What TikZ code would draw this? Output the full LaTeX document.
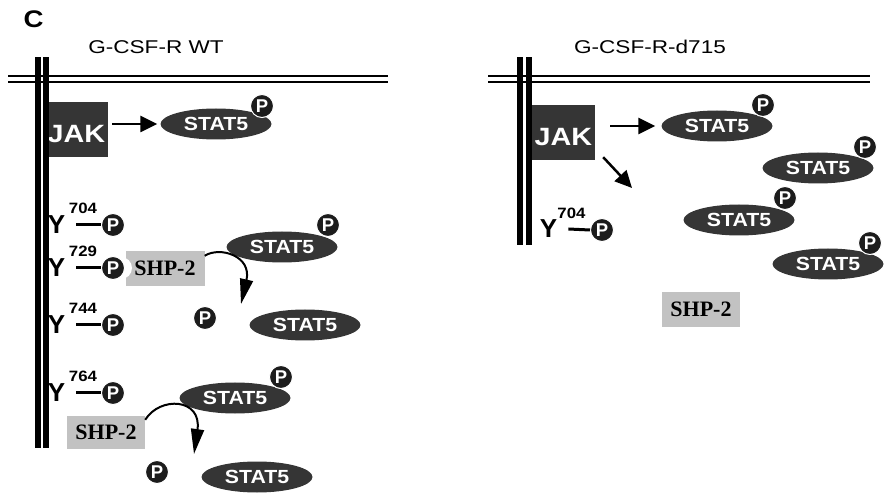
\documentclass[tikz,border=0pt]{standalone}
\usepackage{fontspec}
\setmainfont{Liberation Sans}
\newfontfamily\serifface{Liberation Serif}
\newfontfamily\headface[FakeStretch=1.22]{Liberation Sans}
\newfontfamily\jakface[FakeStretch=1.15]{Liberation Sans}
\newfontfamily\statface[FakeStretch=1.12]{Liberation Sans}
\newfontfamily\supface[FakeStretch=1.12]{Liberation Sans}
\usetikzlibrary{arrows.meta,shapes.geometric}
\definecolor{protein}{HTML}{353535}
\definecolor{phos}{HTML}{1C1C1C}
\definecolor{phosphatase}{HTML}{C2C2C2}
\tikzset{
  kinase/.style={rectangle, fill=protein, minimum width=63pt, minimum height=55pt,
    inner sep=0pt, text=white, font=\jakface\bfseries\fontsize{25}{25}\selectfont,
    text height=26pt, text depth=0pt},
  stat/.style={ellipse, fill=protein, minimum width=111pt, minimum height=31pt,
    inner sep=0pt, text=white, font=\statface\bfseries\fontsize{19}{19}\selectfont},
  phosgrp/.style={circle, fill=phos, draw=white, line width=1pt, minimum size=23pt,
    inner sep=0pt, text=white, font=\bfseries\fontsize{18.5}{18.5}\selectfont},
  shp/.style={rectangle, fill=phosphatase, minimum width=79pt, minimum height=35pt,
    inner sep=0pt, font=\serifface\bfseries\fontsize{22}{22}\selectfont},
  tyr/.style={inner sep=0pt, font=\bfseries\fontsize{26}{26}\selectfont},
  resnum/.style={inner sep=0pt, font=\supface\bfseries\fontsize{15}{15}\selectfont},
  header/.style={inner sep=0pt, font=\headface\fontsize{18.5}{18.5}\selectfont},
  bond/.style={line width=3pt},
  act/.style={line width=2.5pt, -{Triangle[length=17pt,width=16pt]}},
  dephos/.style={line width=2pt, -{Triangle[length=25pt,width=13pt]}},
}
\begin{document}
\begin{tikzpicture}[x=1pt,y=-1pt]
\useasboundingbox[fill=white] (0,0) rectangle (884,494);

% panel letter and headings
\node[inner sep=0pt, font=\jakface\bfseries\fontsize{24}{24}\selectfont] (panel) at (33.5,19.5) {C};
\node[header] (titleL) at (156,47.5) {G-CSF-R WT};
\node[header] (titleR) at (650,47) {G-CSF-R-d715};

% ---------- wild-type receptor ----------
\node[kinase] (jakL) at (76.5,129.5) {JAK};
\fill (35,57) rectangle (41,448);
\fill (43,57) rectangle (49,448);
\fill (8,75) rectangle (388,77.5);
\fill (8,81) rectangle (388,83.5);

\node[stat] (sL1) at (216,124) {STAT5};
\node[phosgrp] (sL1p) at (262,106) {P};
\draw[act, shorten <=4pt, shorten >=3pt] (jakL.east |- sL1.west) -- (sL1.west);

% phosphotyrosines
\node[tyr] (yL1) at (56.5,225) {Y};
\node[resnum] (yL1n) at (83,208) {704};
\node[phosgrp] (pL1) at (113,225) {P};
\draw[bond] ([xshift=11pt]yL1.east) -- (pL1.west);

\node[shp] (shpL1) at (165,268.5) {SHP-2};
\fill[white] (121,268) circle (11);
\node[tyr] (yL2) at (56.5,268) {Y};
\node[resnum] (yL2n) at (83,251) {729};
\node[phosgrp] (pL2) at (113,268) {P};
\draw[bond] ([xshift=11pt]yL2.east) -- (pL2.west);

\node[tyr] (yL3) at (56.5,325) {Y};
\node[resnum] (yL3n) at (83,308) {744};
\node[phosgrp] (pL3) at (113,325) {P};
\draw[bond] ([xshift=11pt]yL3.east) -- (pL3.west);

\node[tyr] (yL4) at (56.5,393) {Y};
\node[resnum] (yL4n) at (83,376) {764};
\node[phosgrp] (pL4) at (113,393) {P};
\draw[bond] ([xshift=11pt]yL4.east) -- (pL4.west);

% SHP-2 dephosphorylation near Y729
\node[stat] (sL2) at (282,247) {STAT5};
\node[phosgrp] (sL2p) at (328,225) {P};
\coordinate (tipA) at (241,304);
\draw[dephos] ([yshift=-5pt]shpL1.north east) .. controls (220,246) and (252,256) .. (tipA);
\node[phosgrp] (freeA) at (205,318) {P};
\node[stat] (sL3) at (305,325) {STAT5};

% SHP-2 dephosphorylation near Y764
\node[stat] (sL4) at (235,398) {STAT5};
\node[phosgrp] (sL4p) at (281,377) {P};
\node[shp, minimum width=78pt, minimum height=33pt] (shpL2) at (106,432.5) {SHP-2};
\coordinate (tipB) at (194,454);
\draw[dephos] ([yshift=-4pt]shpL2.north east) .. controls (160,396) and (202,398) .. (tipB);
\node[phosgrp] (freeB) at (157,472) {P};
\node[stat] (sL5) at (257,477) {STAT5};

% ---------- truncated receptor ----------
\node[kinase] (jakR) at (563.5,132.5) {JAK};
\fill (517,57) rectangle (523,245);
\fill (526,57) rectangle (532,245);
\fill (488,75) rectangle (870,77.5);
\fill (488,81) rectangle (870,83.5);

\node[stat] (sR1) at (717,126) {STAT5};
\node[phosgrp] (sR1p) at (763,105) {P};
\draw[act, shorten <=15pt, shorten >=6pt] (jakR.east |- sR1.west) -- (sR1.west);
\coordinate (jakRtarget) at (632,188);
\draw[act] ([shift={(8pt,3pt)}]jakR.south east) -- (jakRtarget);

\node[stat] (sR2) at (818,168) {STAT5};
\node[phosgrp] (sR2p) at (865,147) {P};
\node[stat] (sR3) at (739,220) {STAT5};
\node[phosgrp] (sR3p) at (785,198) {P};
\node[stat] (sR4) at (828,264) {STAT5};
\node[phosgrp] (sR4p) at (870,243) {P};

\node[tyr] (yR1) at (548.5,229) {Y};
\node[resnum] (yR1n) at (571.5,213) {704};
\node[phosgrp] (pR1) at (602,230) {P};
\draw[bond] ([xshift=11pt]yR1.east) -- (pR1.west);

\node[shp, minimum width=78pt] (shpR) at (701,309.5) {SHP-2};
\end{tikzpicture}
\end{document}
